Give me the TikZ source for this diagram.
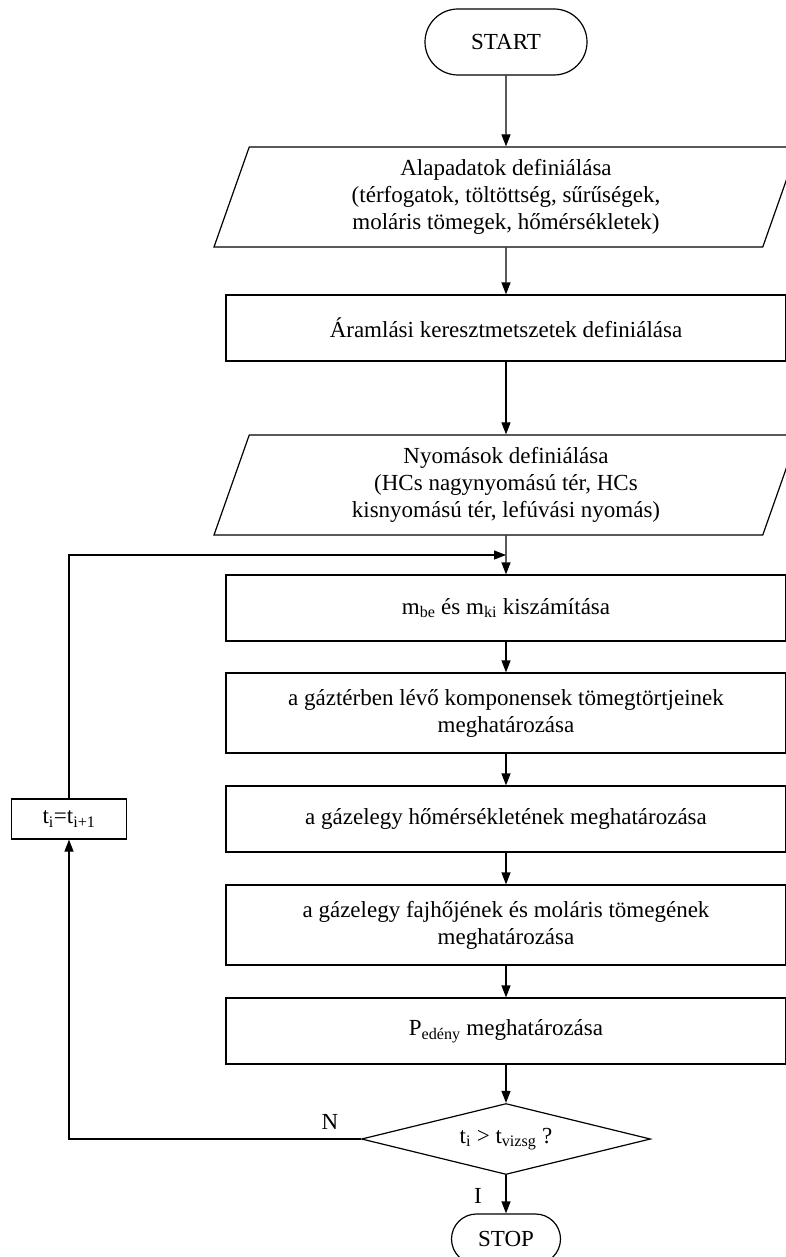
\documentclass[tikz,border=0pt]{standalone}
\usepackage{fontspec}
\setmainfont{Liberation Serif}
\usetikzlibrary{arrows.meta}
\usetikzlibrary{shapes.geometric}
\usetikzlibrary{shapes.misc}
\tikzset{lepes/.style = {draw, rectangle, minimum width = 560pt, minimum height = 66pt, align = center, inner sep = 2pt}}
\tikzset{adat/.style = {draw, trapezium, trapezium left angle = 66, trapezium right angle = 114, trapezium stretches body, minimum width = 584pt, minimum height = 100pt, align = center, inner sep = 2pt}}
\tikzset{vege/.style = {draw, rounded rectangle, inner sep = 2pt}}
\tikzset{dontes/.style = {draw, diamond, aspect = 4, minimum width = 289pt, minimum height = 71pt, inner sep = 0pt}}

\begin{document}
\begin{tikzpicture}[x = 1pt, y = -1pt, line width = 1.2pt,
    >={Triangle[length = 12pt, width = 9pt]},
    every node/.style = {font = \fontsize{23}{27}\selectfont}]
  \useasboundingbox (0, 0) rectangle (786, 1257);
  \node [vege, minimum width = 166pt, minimum height = 66pt] (start) at (506, 42) {START};
  \node [adat] (alap) at (506, 197) {Alapadatok definiálása\\(térfogatok, töltöttség, sűrűségek,\\moláris tömegek, hőmérsékletek)};
  \node [lepes] (aram) at (506, 328) {Áramlási keresztmetszetek definiálása};
  \node [adat] (nyom) at (506, 485) {Nyomások definiálása\\(HCs nagynyomású tér, HCs\\kisnyomású tér, lefúvási nyomás)};
  \node [lepes] (tomeg) at (506, 608) {m\textsubscript{be} és m\textsubscript{ki} kiszámítása};
  \node [lepes, minimum height = 80pt] (tort) at (506, 713) {a gáztérben lévő komponensek tömegtörtjeinek\\meghatározása};
  \node [lepes] (hom) at (506, 819) {a gázelegy hőmérsékletének meghatározása};
  \node [lepes, minimum height = 80pt] (fajho) at (506, 925) {a gázelegy fajhőjének és moláris tömegének\\meghatározása};
  \node [lepes] (nyomas) at (506, 1031) {P\textsubscript{edény} meghatározása};
  \node [dontes] (vizsg) at (506, 1139) {t\textsubscript{i} > t\textsubscript{vizsg} ?};
  \node [vege, minimum width = 113pt, minimum height = 50pt] (stop) at (506, 1239) {STOP};
  \node [lepes, minimum width = 115pt, minimum height = 40pt] (lep) at (69, 819) {t\textsubscript{i}=t\textsubscript{i+1}};
  \node (nem) at (330, 1122) {N};
  \node (igen) at (478, 1196) {I};
  \coordinate (bal) at (69, 1139);
  \coordinate (fel) at (69, 555);
  \coordinate (be) at (506, 555);
  % fo ag
  \foreach \a/\b in {start/alap, alap/aram, aram/nyom, nyom/tomeg, tomeg/tort, tort/hom, hom/fajho, fajho/nyomas, nyomas/vizsg, vizsg/stop}
    \draw [->] (\a) -- (\b);
  % visszacsatolas
  \draw [->] (vizsg.west) -- (bal) -- (lep.south);
  \draw [->] (lep.north) -- (fel) -- (be);
\end{tikzpicture}
\end{document}
